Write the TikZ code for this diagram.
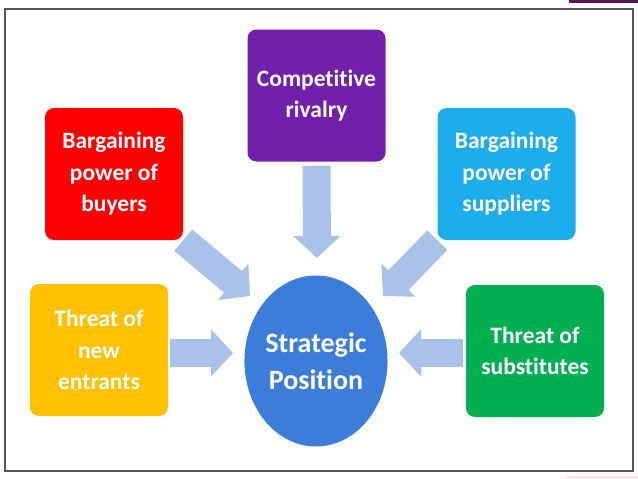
\documentclass[tikz,border=0pt]{standalone}
\usepackage{fontspec}
\setmainfont[Ligatures={NoCommon}]{Carlito}
\usetikzlibrary{arrows.meta,backgrounds,shapes.geometric}
\definecolor{cpurple}{RGB}{112,32,170}
\definecolor{cred}{RGB}{255,0,0}
\definecolor{ccyan}{RGB}{28,174,236}
\definecolor{cyellow}{RGB}{255,192,0}
\definecolor{cgreen}{RGB}{0,176,80}
\definecolor{cblue}{RGB}{59,125,216}
\definecolor{carrow}{RGB}{169,194,234}
\definecolor{cframe}{RGB}{85,85,85}
\definecolor{cbar}{RGB}{90,20,80}
\definecolor{cpink}{RGB}{246,232,242}
\begin{document}
\begin{tikzpicture}[x=1pt,y=-1pt,
  box/.style={rounded corners=9pt, minimum width=138pt, minimum height=132pt,
    text=white, align=center, inner sep=0pt,
    font=\fontsize{23.5}{31.5}\selectfont\bfseries},
  blk/.style={line width=28pt, color=carrow, -{Triangle[width=46pt,length=22pt]}}]
\useasboundingbox (0,0) rectangle (638,479);
\fill[cbar] (569,0) rectangle (638,2.5);
\fill[cpink] (567,476) rectangle (638,479);
\draw[cframe, line width=1.4pt] (5,9) rectangle (633,471);

\node[box, fill=cpurple] (rival) at (316.5,95.5) {Competitive\\rivalry};
\node[box, fill=cred] (buyers) at (114,174) {Bargaining\\power of\\buyers};
\node[box, fill=ccyan] (suppliers) at (506.5,174) {Bargaining\\power of\\suppliers};
\node[box, fill=cyellow] (entrants) at (99,350) {Threat of\\new\\entrants};
\node[box, fill=cgreen] (subst) at (535,351) {Threat of\\substitutes};
\node[ellipse, fill=cblue, minimum width=142pt, minimum height=171pt, inner sep=0pt,
  text=white, align=center, font=\fontsize{28}{37}\selectfont\bfseries]
  (pos) at (316,361) {Strategic\\Position};

\coordinate (tipT) at (317,258);
\coordinate (tipBL) at (250,296);
\coordinate (tipBR) at (383,296);
\coordinate (tipL) at (233,353);
\coordinate (tipR) at (399,353);

\begin{scope}[on background layer]
\draw[blk] ([yshift=-4pt]rival.south) -- (tipT);
\draw[blk] (buyers.south east) -- (tipBL);
\draw[blk] (suppliers.south west) -- (tipBR);
\draw[blk] ([shift={(2pt,-3pt)}]entrants.east) -- (tipL);
\draw[blk] ([shift={(-3pt,-2pt)}]subst.west) -- (tipR);
\end{scope}
\end{tikzpicture}
\end{document}
